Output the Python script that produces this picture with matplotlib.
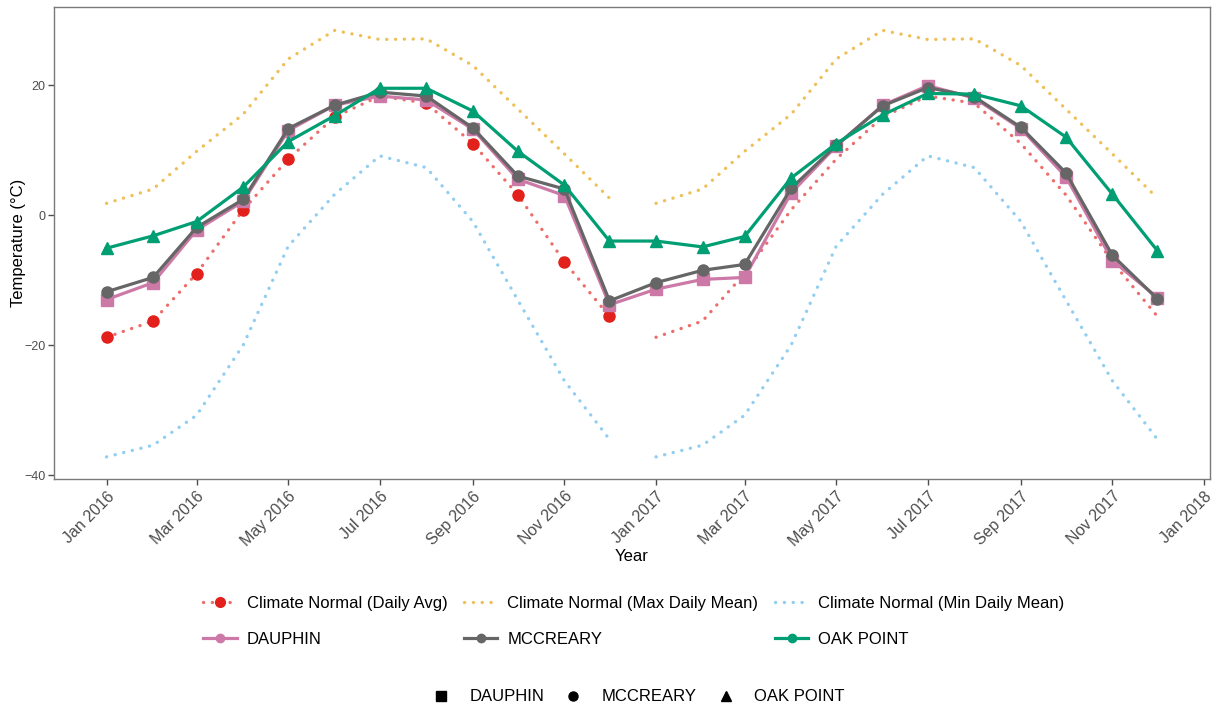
import numpy as np
import pandas as pd
import matplotlib
matplotlib.use("Agg")
import matplotlib.pyplot as plt
import matplotlib.dates as mdates
from matplotlib.lines import Line2D

plt.rcParams['font.family'] = ['Liberation Sans', 'DejaVu Sans']

# monthly means, Jan 2016 - Dec 2017
months = pd.date_range('2016-01-01', periods=24, freq='MS')
dauphin = [-13.0, -10.4, -2.3, 2.1, 13.0, 16.9, 18.3, 17.7, 13.2, 5.5, 3.0, -13.8,
           -11.4, -9.9, -9.6, 3.4, 10.6, 16.9, 19.9, 18.0, 13.3, 5.9, -7.0, -12.7]
mccreary = [-11.8, -9.6, -1.9, 2.4, 13.3, 16.9, 18.9, 18.3, 13.4, 6.0, 4.0, -13.2,
            -10.4, -8.5, -7.6, 4.1, 10.7, 16.8, 19.6, 18.2, 13.5, 6.5, -6.2, -12.9]
oak_point = [-5.1, -3.2, -1.0, 4.3, 11.3, 15.3, 19.5, 19.5, 16.0, 9.8, 4.6, -4.0,
             -4.0, -4.9, -3.3, 5.7, 11.0, 15.4, 18.7, 18.6, 16.8, 12.0, 3.2, -5.5]

# climate normals by calendar month
normal_avg = [-18.8, -16.3, -9.0, 0.8, 8.6, 15.1, 18.3, 17.2, 11.0, 3.1, -7.2, -15.6]
normal_max = [1.8, 4.0, 9.8, 15.5, 24.0, 28.4, 27.0, 27.1, 23.0, 16.3, 9.4, 2.6]
normal_min = [-37.2, -35.4, -30.8, -20.0, -4.8, 3.2, 9.1, 7.3, -1.0, -13.1, -25.5, -34.5]
years = [2016, 2017]

stations = ['DAUPHIN', 'MCCREARY', 'OAK POINT']
station_vals = [dauphin, mccreary, oak_point]
station_cols = ['#CC79A7', '#666666', '#009E73']
station_mk = ['s', 'o', '^']
station_ms = [8, 8, 9]

red = '#E3211C'
orange = '#E69F00'
blue = '#56B4E9'
dot = dict(linestyle=(0, (0.05, 2.6)), dash_capstyle='round', lw=2.4, alpha=0.65)

fig = plt.figure(figsize=(12.17, 7.09), dpi=100)
ax = fig.add_axes([54/1217, 1-479/709, (1210-54)/1217, (479-7)/709])

for yr in years:
    d = pd.date_range(f'{yr}-01-01', periods=12, freq='MS')
    ax.plot(d, normal_max, color=orange, zorder=1, **dot)
    ax.plot(d, normal_min, color=blue, zorder=1, **dot)
    ax.plot(d, normal_avg, color=red, zorder=1, **dot)
ax.plot(months[:12], normal_avg, 'o', color=red, ms=8, zorder=2)

for name, vals, c, m, ms in zip(stations, station_vals, station_cols, station_mk, station_ms):
    ax.plot(months, vals, color=c, lw=2.3, marker=m, ms=ms, zorder=3)

ax.set_xlim(pd.Timestamp('2015-11-27'), pd.Timestamp('2018-01-05'))
ax.set_ylim(-40.6, 32.0)
ax.set_yticks([-40, -20, 0, 20])
ax.xaxis.set_major_locator(mdates.MonthLocator(bymonth=[1, 3, 5, 7, 9, 11]))
ax.xaxis.set_major_formatter(mdates.DateFormatter('%b %Y'))
for lab in ax.get_xticklabels():
    lab.set_rotation(45)
    lab.set_ha('right')
    lab.set_rotation_mode('anchor')
ax.tick_params(axis='x', labelsize=11.5, colors='#4D4D4D', length=4, width=1, pad=3)
ax.tick_params(axis='y', labelsize=9, colors='#4D4D4D', length=4, width=1, pad=2)
for s in ax.spines.values():
    s.set_color('#7A7A7A')
    s.set_linewidth(1)
ax.set_xlabel('Year', fontsize=12, color='black')
ax.set_ylabel('Temperature (°C)', fontsize=12, color='black')
ax.xaxis.set_label_coords(0.5, -0.148)
ax.yaxis.set_label_coords(-0.0245, 0.5)

# colour legend (column-major fill)
h_avg = (Line2D([], [], color=red, **dot),
         Line2D([], [], color=red, ls='none', marker='o', ms=7))
h_max = Line2D([], [], color=orange, **dot)
h_min = Line2D([], [], color=blue, **dot)
h_st = [Line2D([], [], color=c, lw=2.3, marker='o', ms=6) for c in station_cols]
handles = [h_avg, h_st[0], h_max, h_st[1], h_min, h_st[2]]
labels = ['Climate Normal (Daily Avg)', 'DAUPHIN', 'Climate Normal (Max Daily Mean)',
          'MCCREARY', 'Climate Normal (Min Daily Mean)', 'OAK POINT']
fig.legend(handles, labels, ncol=3, loc='center', bbox_to_anchor=(0.521, 0.124),
           frameon=False, fontsize=12, handlelength=2.0, handletextpad=0.6,
           columnspacing=1.0, labelspacing=1.25)

# shape legend
sh = [Line2D([], [], color='black', ls='none', marker=m, ms=6.5) for m in station_mk]
fig.legend(sh, stations, ncol=3, loc='center', bbox_to_anchor=(0.5247, 0.017),
           frameon=False, fontsize=12, handlelength=1.0, handletextpad=1.2,
           columnspacing=1.24)

fig.savefig('out.png', dpi=100)
